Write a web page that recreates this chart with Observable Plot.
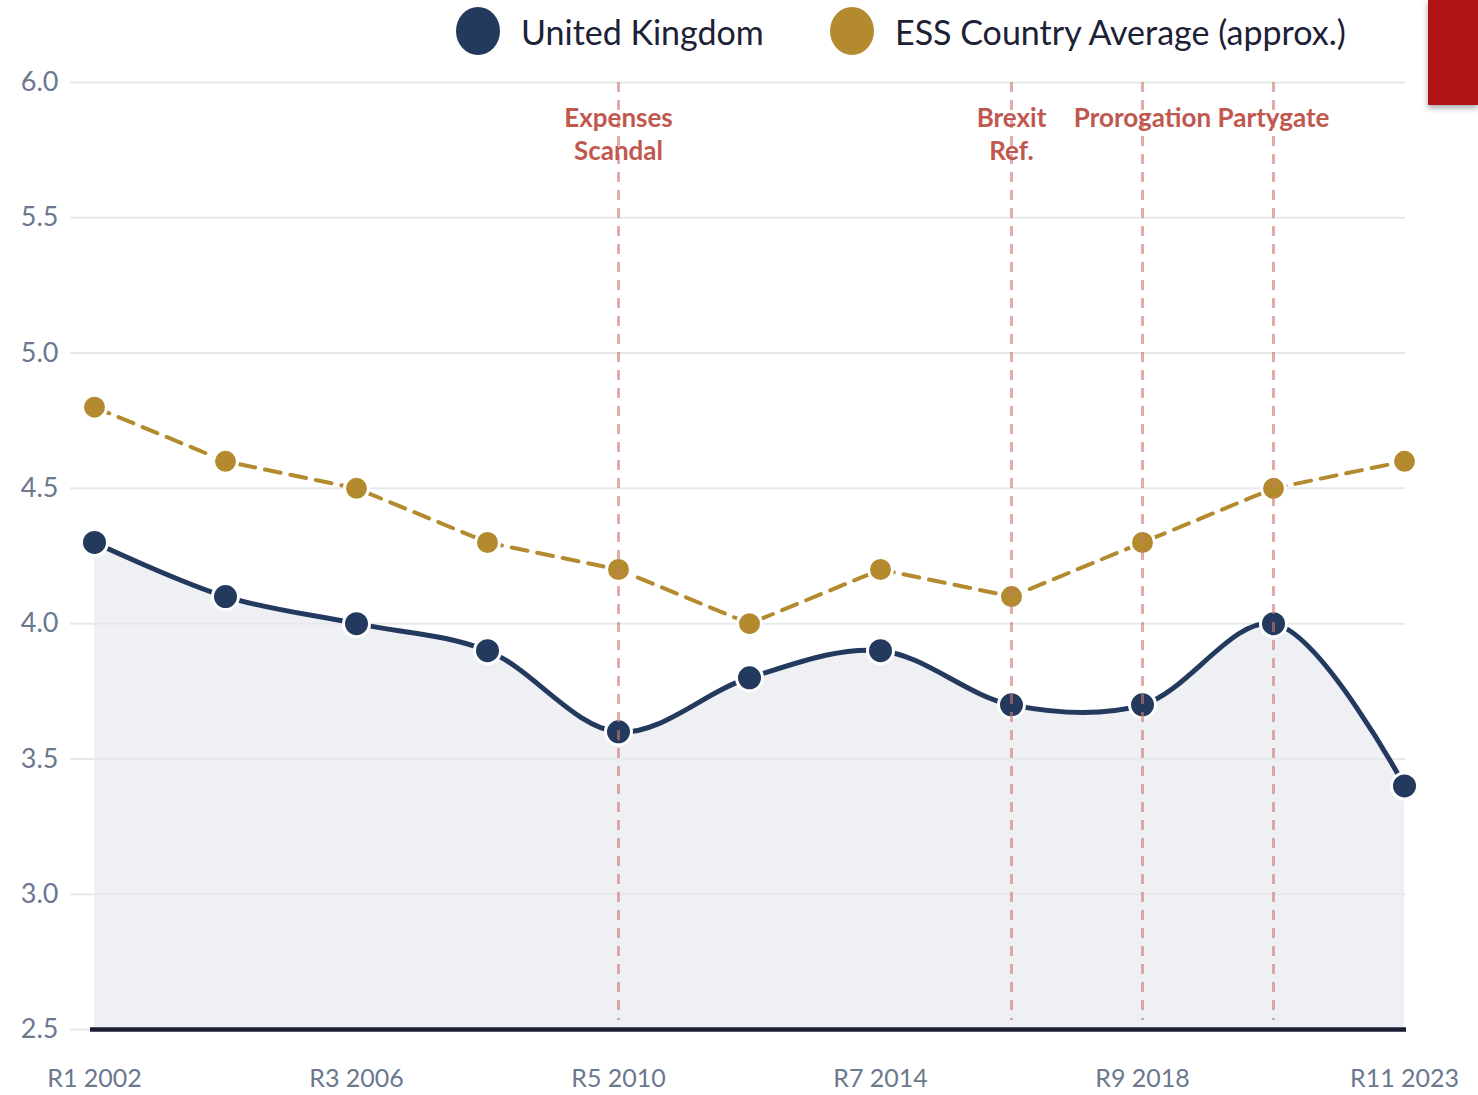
<!DOCTYPE html>
<html>
<head>
<meta charset="utf-8">
<script src="https://cdn.jsdelivr.net/npm/d3@7"></script>
<script src="https://cdn.jsdelivr.net/npm/@observablehq/plot@0.6"></script>
<style>
  html, body { margin: 0; padding: 0; background: #fff; font-family: Lato, "Noto Sans", sans-serif; }
  #wrap { position: relative; width: 1478px; height: 1095px; overflow: hidden; }
  #legend { position: relative; height: 60px; }
  .item { position: absolute; top: 7px; display: flex; align-items: center; font-size: 34px; color: #1c2135; }
  .sw { width: 44px; height: 48px; border-radius: 50%; margin-right: 21px; }
  #red { position: absolute; left: 1428px; top: 0; width: 50px; height: 105px; background: #b01414; box-shadow: 0 3px 6px rgba(0,0,0,0.35); }
  svg { overflow: visible; }
</style>
</head>
<body>
<div id="wrap">
  <div id="legend"></div>
  <div id="chart"></div>
  <div id="red"></div>
</div>
<script>
const rounds = ["R1 2002","R2 2004","R3 2006","R4 2008","R5 2010","R6 2012","R7 2014","R8 2016","R9 2018","R10 2020","R11 2023"];
const ukValues = [4.3, 4.1, 4.0, 3.9, 3.6, 3.8, 3.9, 3.7, 3.7, 4.0, 3.4];
const essValues = [4.8, 4.6, 4.5, 4.3, 4.2, 4.0, 4.2, 4.1, 4.3, 4.5, 4.6];
const xTickLabels = ["R1 2002","R3 2006","R5 2010","R7 2014","R9 2018","R11 2023"];
const yTicks = [2.5, 3.0, 3.5, 4.0, 4.5, 5.0, 5.5, 6.0];
const events = [
  {round: "R5 2010", label: "Expenses\nScandal"},
  {round: "R8 2016", label: "Brexit\nRef."},
  {round: "R9 2018", label: "Prorogation"},
  {round: "R10 2020", label: "Partygate"}
];
const seriesNames = ["United Kingdom", "ESS Country Average (approx.)"];
const seriesColors = ["#233a5e", "#b38b2e"];

const uk = rounds.map((r, i) => ({round: r, value: ukValues[i]}));
const ess = rounds.map((r, i) => ({round: r, value: essValues[i]}));

// legend
const legend = document.getElementById("legend");
const legendLeft = [456, 830];
seriesNames.forEach((n, i) => {
  const d = document.createElement("div");
  d.className = "item";
  d.style.left = legendLeft[i] + "px";
  d.innerHTML = `<span class="sw" style="background:${seriesColors[i]}"></span><span>${n}</span>`;
  legend.appendChild(d);
});

const axisColor = "#6b788d";
const chart = Plot.plot({
  width: 1478,
  height: 1035,
  marginLeft: 93,
  marginRight: 73,
  marginTop: 22,
  marginBottom: 66,
  style: {fontFamily: "Lato, 'Noto Sans', sans-serif", background: "transparent"},
  x: {type: "point", domain: rounds, padding: 0},
  y: {domain: [2.5, 6]},
  marks: [
    Plot.areaY(uk, {x: "round", y1: 2.5, y2: "value", fill: "#eef0f3", curve: "catmull-rom"}),
    Plot.ruleY(yTicks.slice(1), {stroke: "#e6e8ec", strokeWidth: 2, insetLeft: -23}),
    Plot.ruleY([2.5], {stroke: "#e6e8ec", strokeWidth: 2, insetLeft: -23}),
    Plot.lineY(ess, {x: "round", y: "value", stroke: seriesColors[1], strokeWidth: 4, strokeDasharray: "16,10"}),
    Plot.lineY(uk, {x: "round", y: "value", stroke: seriesColors[0], strokeWidth: 5, curve: "catmull-rom"}),
    Plot.dot(ess, {x: "round", y: "value", r: 12, fill: seriesColors[1], stroke: "#fff", strokeWidth: 3}),
    Plot.dot(uk, {x: "round", y: "value", r: 13, fill: seriesColors[0], stroke: "#fff", strokeWidth: 3}),
    Plot.ruleX(events, {x: "round", y1: 6, y2: 2.5, insetBottom: 9, stroke: "#d0766d", strokeOpacity: 0.6, strokeWidth: 3, strokeDasharray: "10,8"}),
    Plot.text(events, {x: "round", y: 6, text: "label", lineAnchor: "top", dy: 21, lineHeight: 1.27, fontSize: 26, fontWeight: "bold", fill: "#c0584f"}),
    Plot.ruleY([2.5], {stroke: "#1b1f33", strokeWidth: 4.5, insetLeft: -3, insetRight: -1}),
    Plot.axisY(yTicks, {tickSize: 0, tickPadding: 35, tickFormat: d3.format(".1f"), fontSize: 27, color: axisColor, fill: axisColor, label: null}),
    Plot.axisX(xTickLabels, {tickSize: 0, tickPadding: 40, fontSize: 25, color: axisColor, fill: axisColor, label: null})
  ]
});
document.getElementById("chart").appendChild(chart);
</script>
</body>
</html>
